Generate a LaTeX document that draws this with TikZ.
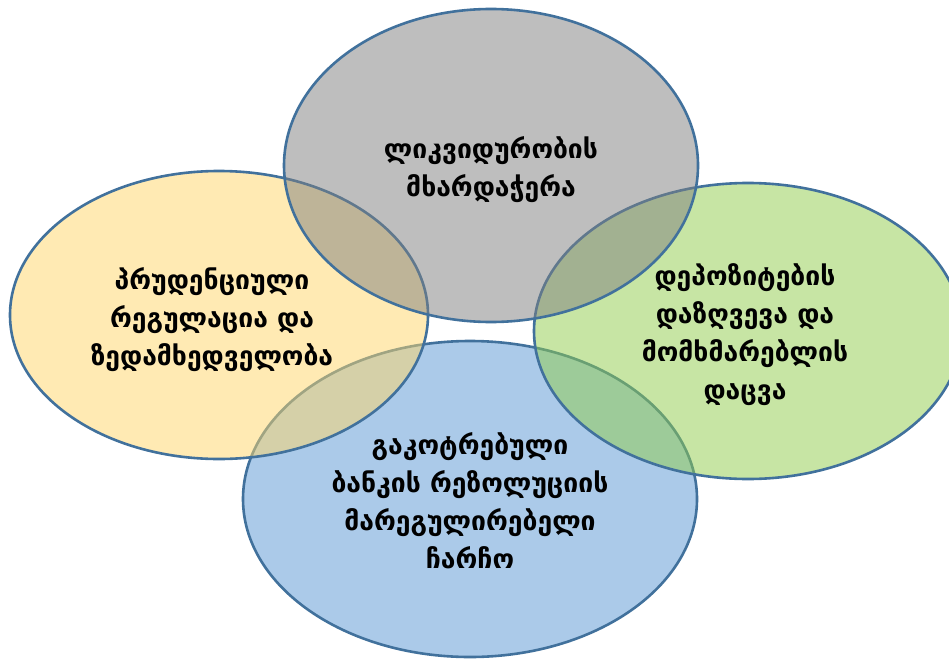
\documentclass[tikz,border=0pt]{standalone}
\usepackage{fontspec}
\newfontfamily\geo{DejaVu Sans}
\definecolor{edge}{RGB}{65,113,156}
\definecolor{cgray}{RGB}{127,127,127}
\definecolor{cyellow}{RGB}{255,215,105}
\definecolor{cgreen}{RGB}{145,205,75}
\definecolor{cblue}{RGB}{89,151,213}
\tikzset{
  venn/.style={draw=edge, line width=2.6pt, fill opacity=0.5},
  lbl/.style={font=\geo\bfseries\fontsize{26.5}{38}\selectfont, align=center, text opacity=1}
}
\begin{document}
\begin{tikzpicture}[x=1pt,y=-1pt]
\useasboundingbox (0,0) rectangle (949,658);
\clip (0,0) rectangle (949,658);
\fill[white] (0,0) rectangle (949,658);
\draw[venn, fill=cblue] (470,499) ellipse [x radius=227, y radius=158];
\draw[venn, fill=cgreen] (748,331) ellipse [x radius=214, y radius=148];
\draw[venn, fill=cyellow] (219,315) ellipse [x radius=209, y radius=144];
\draw[venn, fill=cgray] (491,165.5) ellipse [x radius=207, y radius=156.5];
\node[lbl] (top) at (491,170) {ლიკვიდურობის\\მხარდაჭერა};
\node[lbl] (left) at (212,320) {პრუდენციული\\რეგულაცია და\\ზედამხედველობა};
\node[lbl] (right) at (745,335) {დეპოზიტების\\დაზღვევა და\\მომხმარებლის\\დაცვა};
\node[lbl] (bottom) at (470,501) {გაკოტრებული\\ბანკის რეზოლუციის\\მარეგულირებელი\\ჩარჩო};
\end{tikzpicture}
\end{document}
